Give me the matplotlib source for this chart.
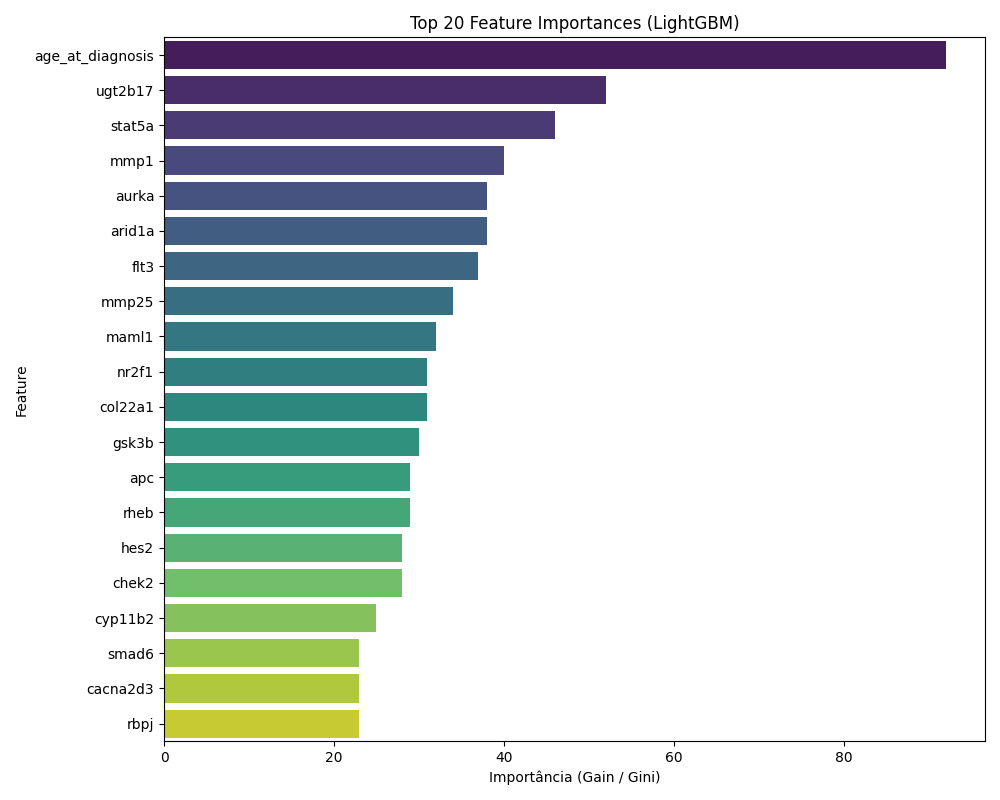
import matplotlib
matplotlib.use("Agg")
import matplotlib.pyplot as plt
import seaborn as sns
import pandas as pd

features = ['age_at_diagnosis', 'ugt2b17', 'stat5a', 'mmp1', 'aurka', 'arid1a',
            'flt3', 'mmp25', 'maml1', 'nr2f1', 'col22a1', 'gsk3b', 'apc', 'rheb',
            'hes2', 'chek2', 'cyp11b2', 'smad6', 'cacna2d3', 'rbpj']
importances = [92, 52, 46, 40, 38, 38, 37, 34, 32, 31, 31, 30, 29, 29,
               28, 28, 25, 23, 23, 23]

df = pd.DataFrame({'Feature': features, 'Importance': importances})

plt.figure(figsize=(10, 8))
sns.barplot(data=df, x='Importance', y='Feature', hue='Feature',
            palette='viridis', legend=False)
plt.title('Top 20 Feature Importances (LightGBM)')
plt.xlabel('Importância (Gain / Gini)')
plt.ylabel('Feature')
plt.tight_layout()
plt.savefig('out.png', dpi=100)
